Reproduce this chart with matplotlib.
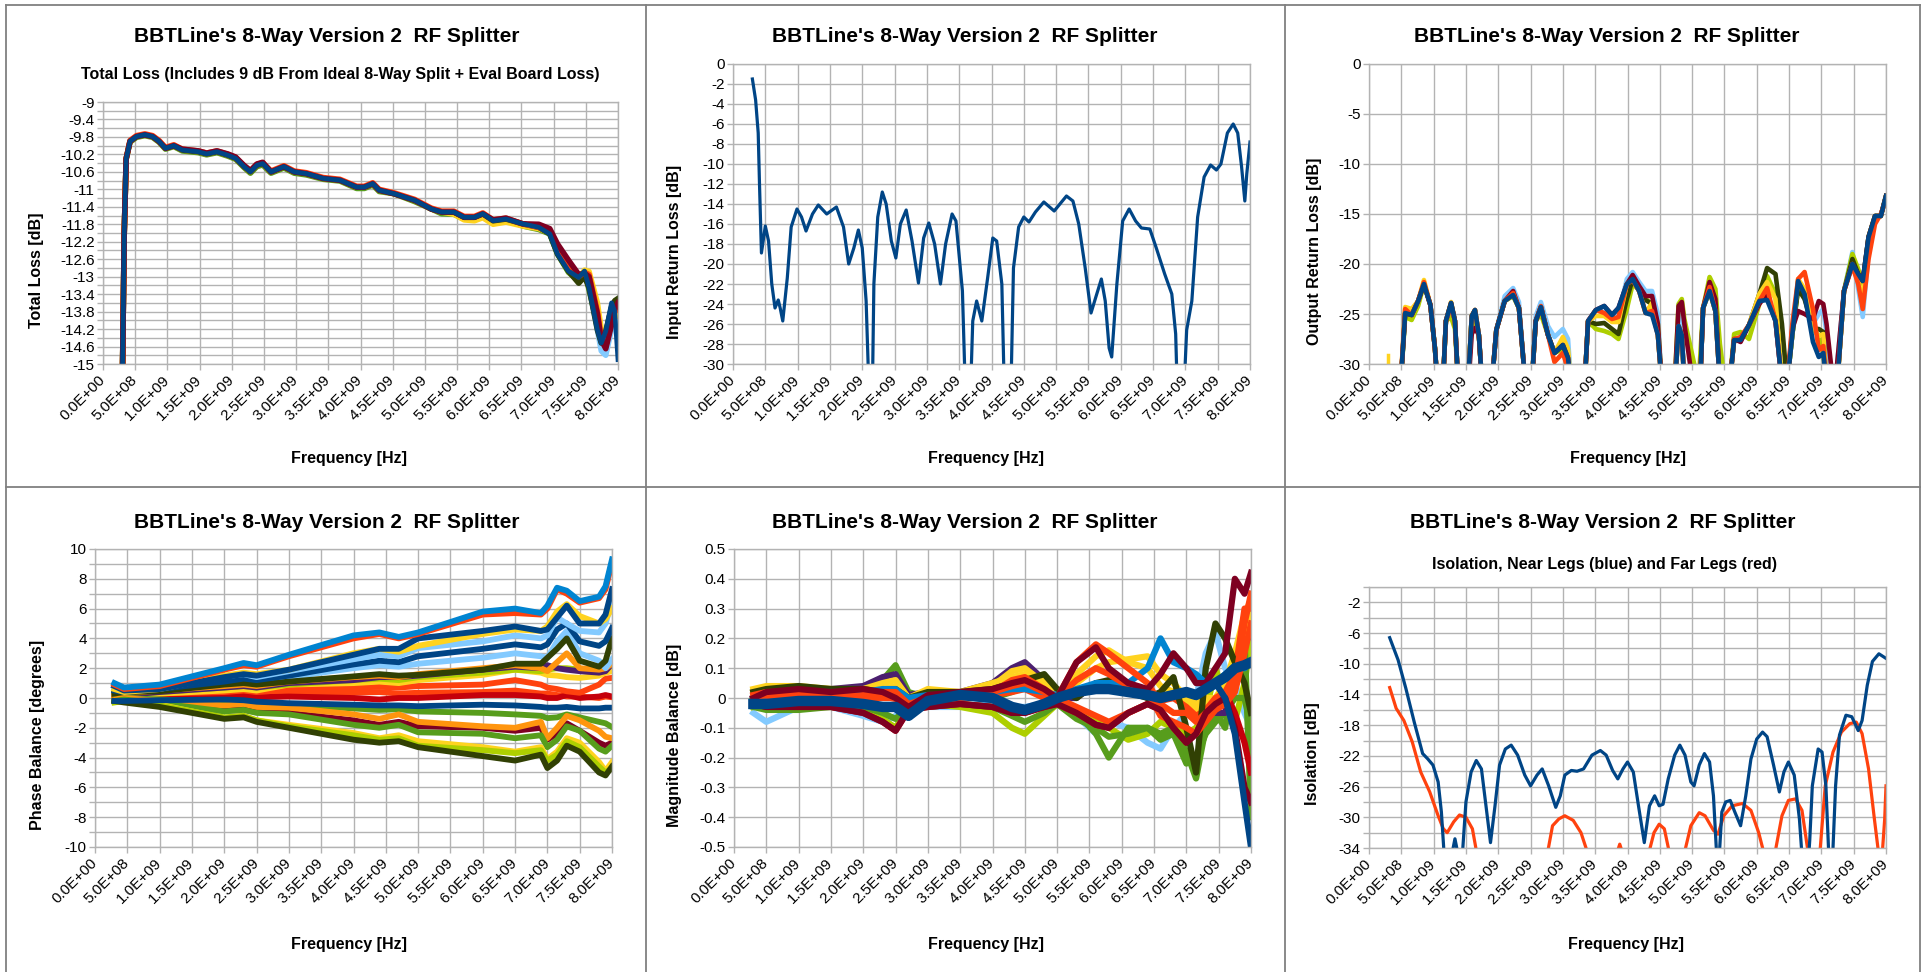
import numpy as np
import matplotlib
matplotlib.use("Agg")
import matplotlib.pyplot as plt
from matplotlib.lines import Line2D

# ---------------------------------------------------------------- text
TITLE = "BBTLine's 8-Way Version 2  RF Splitter"
SUB_LOSS = "Total Loss (Includes 9 dB From Ideal 8-Way Split + Eval Board Loss)"
SUB_ISO = "Isolation, Near Legs (blue) and Far Legs (red)"
XLABEL = "Frequency [Hz]"
YLABELS = ["Total Loss [dB]", "Input Return Loss [dB]", "Output Return Loss [dB]",
           "Phase Balance [degrees]", "Magnitude Balance [dB]", "Isolation [dB]"]
XTICKS_GHZ = [0.0, 0.5, 1.0, 1.5, 2.0, 2.5, 3.0, 3.5, 4.0, 4.5, 5.0, 5.5, 6.0, 6.5, 7.0, 7.5, 8.0]
XTICK_LABELS = ["0.0E+00", "5.0E+08", "1.0E+09", "1.5E+09", "2.0E+09", "2.5E+09", "3.0E+09",
                "3.5E+09", "4.0E+09", "4.5E+09", "5.0E+09", "5.5E+09", "6.0E+09", "6.5E+09",
                "7.0E+09", "7.5E+09", "8.0E+09"]

# ---------------------------------------------------------------- colours (LibreOffice palette)
DBLUE, ORANGE, YELLOW, GREEN = "#004586", "#ff420e", "#ffd320", "#579d1c"
MAROON, LBLUE, DGREEN, LIME = "#7e0021", "#83caff", "#314004", "#aecf00"
PURPLE, ORANGE2, RED, BLUE = "#4b1f6f", "#ff950e", "#c5000b", "#0084d1"

# ---------------------------------------------------------------- panel 1 : total loss (GHz / dB)
P1_F = [0.30, 0.33, 0.36, 0.42, 0.52, 0.65, 0.77, 0.87, 0.97, 1.10,
        1.23, 1.48, 1.61, 1.77, 1.94, 2.06, 2.19, 2.29, 2.39, 2.48,
        2.61, 2.81, 2.97, 3.16, 3.42, 3.68, 3.94, 4.06, 4.19, 4.29,
        4.52, 4.84, 5.10, 5.26, 5.45, 5.61, 5.77, 5.90, 6.06, 6.26,
        6.52, 6.77, 6.94, 7.06, 7.23, 7.39, 7.48, 7.55, 7.68, 7.74,
        7.81, 7.90, 7.95, 8.00]
P1_DBLUE = [-15.5, -12.0, -10.3, -9.90, -9.79, -9.75, -9.79, -9.90, -10.06, -10.00,
            -10.10, -10.14, -10.19, -10.14, -10.22, -10.29, -10.48, -10.60, -10.45, -10.41,
            -10.60, -10.48, -10.60, -10.64, -10.75, -10.79, -10.95, -10.95, -10.87, -11.02,
            -11.10, -11.25, -11.45, -11.52, -11.52, -11.64, -11.64, -11.56, -11.72, -11.68,
            -11.79, -11.87, -12.02, -12.48, -12.87, -13.02, -12.87, -13.25, -14.22, -14.52,
            -14.25, -13.60, -13.80, -14.90]
P1_MAROON = [-15.5, -12.0, -10.3, -9.90, -9.79, -9.75, -9.79, -9.90, -10.06, -10.00,
             -10.08, -10.12, -10.17, -10.12, -10.19, -10.26, -10.45, -10.57, -10.42, -10.38,
             -10.60, -10.48, -10.60, -10.64, -10.75, -10.79, -10.95, -10.95, -10.87, -11.02,
             -11.10, -11.25, -11.45, -11.52, -11.52, -11.64, -11.64, -11.56, -11.70, -11.66,
             -11.79, -11.80, -11.90, -12.25, -12.62, -12.95, -12.92, -13.00, -13.85, -14.45,
             -14.65, -14.10, -13.75, -13.60]
P1_ORANGE = [-15.5, -12.0, -10.3, -9.88, -9.77, -9.73, -9.77, -9.88, -10.04, -9.98,
             -10.08, -10.12, -10.17, -10.12, -10.20, -10.27, -10.46, -10.58, -10.43, -10.39,
             -10.58, -10.46, -10.58, -10.62, -10.73, -10.77, -10.93, -10.93, -10.85, -11.00,
             -11.08, -11.23, -11.43, -11.50, -11.50, -11.62, -11.62, -11.54, -11.70, -11.66,
             -11.79, -11.87, -11.97, -12.35, -12.75, -13.00, -12.90, -12.95, -13.80, -14.40,
             -14.60, -14.05, -13.80, -13.75]
P1_YELLOW = [-15.5, -12.0, -10.3, -9.90, -9.79, -9.75, -9.79, -9.90, -10.06, -10.00,
             -10.10, -10.14, -10.19, -10.14, -10.22, -10.29, -10.48, -10.60, -10.45, -10.41,
             -10.60, -10.48, -10.60, -10.64, -10.75, -10.79, -10.95, -10.95, -10.87, -11.02,
             -11.10, -11.25, -11.45, -11.52, -11.57, -11.70, -11.72, -11.65, -11.80, -11.75,
             -11.84, -11.90, -12.00, -12.35, -12.80, -13.05, -12.85, -12.88, -13.60, -14.20,
             -14.50, -13.95, -13.70, -13.90]
P1_GREEN = [-15.5, -12.0, -10.3, -9.92, -9.81, -9.77, -9.81, -9.92, -10.08, -10.02,
            -10.12, -10.16, -10.21, -10.16, -10.24, -10.31, -10.50, -10.63, -10.48, -10.44,
            -10.63, -10.51, -10.63, -10.67, -10.77, -10.81, -10.98, -10.98, -10.90, -11.05,
            -11.10, -11.28, -11.45, -11.56, -11.57, -11.68, -11.70, -11.56, -11.78, -11.68,
            -11.84, -11.92, -12.02, -12.48, -12.90, -13.10, -12.87, -13.30, -14.10, -14.45,
            -14.30, -13.70, -13.60, -13.70]
P1_LBLUE = [-15.5, -12.0, -10.3, -9.90, -9.79, -9.75, -9.79, -9.90, -10.06, -10.00,
            -10.10, -10.14, -10.19, -10.14, -10.22, -10.29, -10.48, -10.60, -10.45, -10.41,
            -10.60, -10.48, -10.60, -10.64, -10.75, -10.79, -10.95, -10.95, -10.87, -11.02,
            -11.10, -11.25, -11.45, -11.52, -11.52, -11.64, -11.68, -11.56, -11.72, -11.68,
            -11.79, -11.87, -12.02, -12.48, -12.87, -13.02, -12.87, -13.25, -14.22, -14.70,
            -14.80, -14.20, -14.00, -14.10]
P1_DGREEN = [-15.5, -12.0, -10.3, -9.90, -9.79, -9.75, -9.79, -9.90, -10.06, -10.00,
             -10.10, -10.14, -10.19, -10.14, -10.22, -10.29, -10.48, -10.60, -10.45, -10.41,
             -10.60, -10.48, -10.60, -10.64, -10.75, -10.79, -10.95, -10.95, -10.87, -11.02,
             -11.10, -11.25, -11.45, -11.52, -11.52, -11.64, -11.64, -11.56, -11.72, -11.68,
             -11.79, -11.87, -12.02, -12.48, -12.87, -13.15, -13.00, -13.25, -14.22, -14.52,
             -14.25, -13.70, -13.55, -13.50]

# ---------------------------------------------------------------- panel 2 : input return loss
P2_F = [0.30, 0.35, 0.39, 0.41, 0.44, 0.50, 0.55, 0.60, 0.65, 0.70, 0.73, 0.77, 0.84, 0.90,
        0.99, 1.06, 1.13, 1.23, 1.32, 1.45, 1.60, 1.71, 1.79, 1.87, 1.94, 2.00, 2.06, 2.12,
        2.15, 2.18, 2.24, 2.31, 2.37, 2.45, 2.52, 2.59, 2.68, 2.77, 2.87, 2.95, 3.03, 3.12,
        3.21, 3.29, 3.39, 3.45, 3.55, 3.61, 3.66, 3.71, 3.77, 3.85, 3.94, 4.02, 4.08, 4.16,
        4.21, 4.29, 4.34, 4.42, 4.50, 4.58, 4.68, 4.81, 4.97, 5.16, 5.26, 5.35, 5.45, 5.54,
        5.61, 5.70, 5.76, 5.82, 5.86, 5.94, 6.03, 6.13, 6.23, 6.32, 6.45, 6.55, 6.68, 6.79,
        6.85, 6.88, 6.97, 7.02, 7.10, 7.19, 7.29, 7.39, 7.48, 7.55, 7.65, 7.74, 7.81, 7.87,
        7.92, 7.95, 8.00]
P2_DB = [-1.5, -3.6, -6.9, -12.0, -18.9, -16.2, -17.7, -22.0, -24.4, -23.6, -24.4, -25.7, -21.4, -16.3,
         -14.5, -15.3, -16.7, -15.0, -14.1, -15.0, -14.3, -16.3, -20.0, -18.4, -16.6, -18.4, -23.7, -36.0,
         -36.0, -22.0, -15.3, -12.8, -14.0, -17.7, -19.4, -16.0, -14.6, -17.7, -21.9, -17.4, -15.9, -18.0,
         -22.0, -18.0, -15.0, -15.7, -22.7, -36.0, -36.0, -25.7, -23.7, -25.7, -21.4, -17.4, -17.7, -22.0,
         -36.0, -36.0, -20.4, -16.3, -15.3, -15.8, -14.8, -13.8, -14.7, -13.2, -13.7, -16.0, -20.4, -24.9,
         -23.4, -21.5, -23.7, -28.4, -29.3, -22.0, -15.7, -14.5, -15.7, -16.4, -16.5, -18.4, -21.0, -23.0,
         -27.0, -34.0, -34.0, -26.6, -23.7, -15.3, -11.3, -10.1, -10.6, -10.0, -6.9, -6.0, -6.9, -10.3,
         -13.7, -11.0, -7.8]

# ---------------------------------------------------------------- panel 3 : output return loss
P3_F = [0.47, 0.56, 0.66, 0.76, 0.85, 0.95, 1.02, 1.08, 1.13, 1.19,
        1.27, 1.33, 1.38, 1.50, 1.59, 1.64, 1.70, 1.75, 1.85, 1.97,
        2.10, 2.23, 2.32, 2.42, 2.50, 2.58, 2.66, 2.77, 2.87, 3.00,
        3.08, 3.15, 3.32, 3.39, 3.51, 3.64, 3.76, 3.86, 3.99, 4.08,
        4.18, 4.28, 4.38, 4.47, 4.53, 4.70, 4.79, 4.84, 4.88, 5.10,
        5.17, 5.27, 5.36, 5.43, 5.55, 5.65, 5.75, 5.88, 6.04, 6.16,
        6.29, 6.39, 6.47, 6.55, 6.64, 6.74, 6.87, 6.96, 7.03, 7.08,
        7.20, 7.35, 7.48, 7.57, 7.64, 7.73, 7.83, 7.92, 8.00]
P3_DBLUE = [-34, -24.9, -25.1, -23.7, -22.0, -24.1, -28.4, -34, -34, -25.7,
            -23.9, -25.7, -32, -36, -25.2, -24.6, -27.1, -32, -36, -26.6,
            -23.7, -23.1, -24.4, -32, -34, -25.7, -24.3, -27.1, -28.9, -28.1,
            -29.4, -34, -34, -25.7, -24.6, -24.2, -25.1, -24.4, -22.0, -21.5,
            -22.7, -24.9, -25.1, -27.1, -32, -36, -26.2, -27.1, -32, -36,
            -24.4, -22.7, -24.7, -32, -34, -27.6, -27.6, -26.1, -23.7, -23.6,
            -25.7, -32, -32, -27.1, -21.7, -23.0, -27.8, -29.3, -28.9, -32,
            -36, -22.7, -20.0, -21.0, -21.7, -17.3, -15.2, -15.2, -13.2]
P3_LBLUE = [-34, -24.9, -25.1, -23.7, -22.2, -24.1, -28.4, -34, -34, -25.7,
            -24.0, -25.7, -32, -36, -25.2, -25.9, -27.1, -32, -36, -26.6,
            -23.2, -22.4, -23.8, -32, -34, -25.2, -23.8, -26.2, -27.3, -26.5,
            -27.5, -34, -34, -25.7, -24.6, -24.8, -25.5, -25.0, -21.5, -20.8,
            -21.8, -22.7, -22.7, -25.0, -32, -36, -25.0, -26.0, -32, -36,
            -24.4, -22.4, -24.7, -32, -34, -27.6, -27.6, -26.1, -23.7, -23.0,
            -25.7, -32, -32, -27.1, -22.2, -23.5, -26.0, -25.0, -24.5, -27.0,
            -33, -22.7, -18.8, -22.5, -25.3, -19.0, -15.5, -15.2, -13.2]
P3_LIME = [-34, -25.3, -25.6, -24.2, -22.0, -24.1, -28.4, -34, -34, -25.7,
           -25.3, -26.5, -32, -36, -25.2, -26.0, -27.1, -32, -36, -26.6,
           -23.7, -23.2, -24.4, -32, -34, -25.7, -25.0, -27.1, -28.9, -28.5,
           -29.4, -34, -34, -25.7, -26.5, -26.7, -27.0, -27.5, -24.5, -22.0,
           -22.6, -23.5, -24.0, -26.0, -32, -36, -24.0, -23.5, -25.5, -32,
           -24.4, -21.3, -22.5, -28.0, -34, -27.0, -26.8, -27.5, -24.0, -21.2,
           -23.0, -32, -32, -27.1, -22.5, -22.8, -26.0, -27.5, -28.9, -32,
           -36, -22.7, -19.0, -20.5, -22.0, -17.3, -15.2, -15.2, -13.2]
P3_DGREEN = [-34, -24.9, -25.1, -23.7, -22.0, -24.1, -28.4, -34, -34, -25.7,
             -23.9, -25.7, -32, -36, -25.2, -24.6, -27.1, -32, -36, -26.6,
             -23.7, -23.1, -24.4, -32, -34, -25.7, -24.3, -27.1, -28.9, -28.1,
             -29.4, -34, -34, -25.7, -26.0, -25.9, -26.5, -27.0, -23.5, -21.5,
             -22.7, -23.6, -24.0, -27.1, -32, -36, -26.2, -27.1, -32, -36,
             -24.4, -22.7, -24.7, -32, -34, -27.6, -27.6, -26.1, -23.0, -20.4,
             -21.0, -26.0, -32, -27.1, -22.5, -23.5, -26.5, -26.5, -26.8, -32,
             -36, -22.7, -19.5, -21.0, -21.7, -17.3, -15.2, -15.2, -13.2]
P3_YELLOW = [-34, -24.3, -24.5, -23.7, -21.6, -24.1, -28.4, -34, -34, -25.7,
             -23.8, -25.7, -32, -36, -25.2, -24.6, -27.1, -32, -36, -26.6,
             -23.7, -23.1, -24.4, -32, -34, -25.7, -24.3, -27.1, -28.9, -27.3,
             -28.5, -34, -34, -25.7, -25.2, -25.2, -25.8, -25.8, -22.0, -21.5,
             -22.7, -24.9, -23.9, -27.1, -32, -36, -26.2, -27.1, -32, -36,
             -24.4, -22.7, -24.7, -32, -34, -27.6, -27.6, -26.1, -23.0, -21.8,
             -23.5, -32, -32, -27.1, -21.5, -22.5, -26.5, -27.2, -27.0, -32,
             -36, -22.7, -20.0, -21.5, -24.0, -17.3, -15.2, -15.2, -13.2]
P3_MAROON = [-34, -24.9, -25.1, -23.7, -22.0, -24.1, -28.4, -34, -34, -25.7,
             -23.9, -25.7, -32, -36, -27.0, -26.4, -27.1, -32, -36, -26.6,
             -23.7, -22.7, -24.4, -32, -34, -25.7, -24.3, -27.1, -28.9, -28.1,
             -29.4, -34, -34, -25.7, -24.6, -24.2, -25.1, -24.4, -22.0, -21.1,
             -22.2, -23.2, -23.2, -26.0, -32, -36, -24.2, -23.8, -26.0, -36,
             -24.4, -21.8, -23.5, -32, -34, -27.5, -27.8, -26.1, -24.0, -23.0,
             -25.7, -32, -32, -26.5, -24.7, -25.0, -25.5, -23.7, -24.0, -26.0,
             -33, -22.7, -20.0, -21.0, -21.7, -17.3, -15.2, -15.2, -13.2]
P3_ORANGE = [-34, -24.5, -25.1, -23.7, -21.8, -24.1, -28.4, -34, -34, -25.7,
             -24.2, -25.7, -32, -36, -25.2, -24.6, -27.1, -32, -36, -26.6,
             -23.7, -22.9, -24.4, -32, -34, -25.7, -24.2, -27.1, -29.8, -28.9,
             -30.5, -34, -34, -25.7, -24.6, -24.9, -25.5, -25.3, -22.0, -21.6,
             -22.7, -24.9, -24.7, -27.1, -32, -36, -26.2, -27.1, -32, -36,
             -24.4, -22.3, -24.7, -32, -34, -27.5, -27.3, -26.1, -23.7, -22.4,
             -25.7, -32, -32, -26.0, -21.5, -20.8, -24.5, -28.6, -28.2, -32,
             -36, -22.7, -20.2, -22.0, -24.5, -19.5, -16.0, -15.0, -13.5]
P3_STUB_F = [0.29, 0.29]
P3_STUB_Y = [-29.1, -31.0]

# ---------------------------------------------------------------- panel 4 : phase balance
P4_F = [0.30, 0.45, 1.0, 2.0, 2.3, 2.5, 3.0, 4.0, 4.4, 4.7, 5.0, 6.0, 6.5, 6.9, 7.0, 7.15, 7.3, 7.5, 7.8, 7.9, 8.0]
P4_ORANGE_B = [0.0, 0.0, 0.2, 0.3, 0.35, 0.25, 0.3, 0.35, 0.4, 0.3, 0.35, 0.4, 0.5, 0.3, 0.3, 0.2, 0.1, 0.1, 0.0, 0.1, 0.05]
P4_RED = [0.0, -0.1, 0.0, 0.1, 0.15, 0.05, 0.1, 0.0, -0.1, 0.0, 0.0, 0.2, 0.2, 0.1, 0.0, 0.0, 0.2, 0.0, 0.1, 0.2, 0.1]
P4_ORANGE_A = [0.0, 0.1, 0.3, 0.4, 0.5, 0.4, 0.55, 0.7, 0.75, 0.7, 0.8, 0.9, 1.2, 0.9, 0.7, 0.6, 0.45, 0.35, 0.9, 1.3, 1.35]
P4_YELLOW_MID = [0.1, 0.1, 0.3, 0.5, 0.6, 0.5, 0.9, 1.0, 1.1, 1.0, 1.2, 1.55, 1.9, 1.7, 1.55, 1.5, 1.4, 1.35, 1.5, 1.7, 1.8]
P4_LIME_MID = [0.1, 0.2, 0.4, 0.7, 0.8, 0.7, 0.9, 1.2, 1.3, 1.2, 1.4, 1.7, 1.9, 1.8, 1.9, 2.0, 2.0, 1.9, 1.8, 2.0, 2.2]
P4_PURPLE = [0.2, 0.2, 0.4, 0.7, 0.8, 0.7, 1.0, 1.2, 1.4, 1.4, 1.5, 1.9, 2.1, 2.0, 2.2, 2.0, 1.9, 1.8, 1.7, 1.8, 2.3]
P4_ORANGE2_MID = [0.2, 0.3, 0.5, 0.8, 0.9, 0.8, 1.1, 1.4, 1.5, 1.4, 1.6, 2.0, 2.2, 2.0, 1.8, 2.4, 3.0, 2.0, 1.9, 2.0, 2.3]
P4_GREEN_MID = [-0.1, 0.0, -0.1, -0.3, -0.3, -0.35, -0.45, -0.7, -0.8, -0.75, -0.9, -1.0, -1.1, -1.2, -1.35, -1.3, -1.1, -1.3, -1.6, -1.7, -1.95]
P4_MAROON_LO = [-0.2, -0.1, -0.3, -0.8, -0.7, -0.9, -1.0, -1.5, -1.8, -1.6, -1.9, -2.0, -2.2, -2.0, -2.8, -2.4, -1.7, -2.2, -3.0, -3.2, -3.0]
P4_ORANGE2_LO = [-0.1, 0.0, -0.2, -0.5, -0.4, -0.6, -0.65, -1.1, -1.4, -1.1, -1.6, -1.9, -2.0, -1.6, -2.7, -2.0, -1.2, -1.5, -2.2, -2.6, -2.7]
P4_GREEN_LO = [-0.2, -0.1, -0.35, -0.9, -0.8, -1.0, -1.1, -1.8, -2.0, -1.8, -2.3, -2.4, -2.7, -2.5, -3.3, -2.8, -1.9, -2.2, -3.4, -3.6, -3.2]
P4_YELLOW_LO = [-0.2, -0.2, -0.45, -1.35, -1.2, -1.5, -1.8, -2.35, -2.7, -2.5, -2.9, -3.3, -3.6, -3.3, -4.1, -3.6, -2.7, -3.0, -4.3, -4.9, -4.3]
P4_LIME_LO = [-0.3, -0.2, -0.5, -1.3, -1.2, -1.5, -1.9, -2.5, -2.8, -2.7, -3.2, -3.5, -3.7, -3.5, -4.2, -3.8, -2.9, -3.3, -4.6, -5.0, -4.7]
P4_DGREEN_LO = [-0.2, -0.3, -0.6, -1.4, -1.3, -1.6, -2.0, -2.8, -3.0, -2.9, -3.3, -3.9, -4.2, -3.8, -4.7, -4.2, -3.2, -3.6, -5.0, -5.2, -4.6]
P4_LBLUE_A = [0.5, 0.4, 0.6, 1.2, 1.3, 1.1, 1.4, 2.0, 2.2, 2.1, 2.3, 2.7, 3.0, 2.8, 2.7, 3.8, 4.5, 3.0, 2.5, 2.0, 2.6]
P4_DGREEN_HI = [0.3, 0.4, 0.45, 0.9, 1.0, 0.9, 1.1, 1.45, 1.6, 1.5, 1.55, 1.9, 2.3, 2.3, 2.7, 3.3, 4.0, 2.5, 2.1, 2.5, 4.0]
P4_DBLUE_MID = [0.5, 0.4, 0.6, 1.1, 1.3, 1.2, 1.5, 2.25, 2.5, 2.4, 2.8, 3.3, 3.6, 3.4, 3.6, 4.6, 5.0, 3.8, 3.5, 3.8, 4.7]
P4_LBLUE_B = [0.8, 0.5, 0.65, 1.45, 1.6, 1.4, 1.8, 2.6, 2.9, 2.8, 3.35, 3.8, 4.2, 4.0, 4.2, 5.4, 5.0, 4.5, 4.4, 5.0, 6.5]
P4_YELLOW_HI = [0.6, 0.4, 0.6, 1.5, 1.7, 1.6, 1.9, 3.0, 3.3, 3.1, 3.5, 4.3, 4.6, 4.5, 4.8, 5.8, 6.3, 5.5, 5.0, 5.3, 6.0]
P4_DBLUE_HI = [0.8, 0.5, 0.6, 1.4, 1.6, 1.5, 1.9, 2.9, 3.3, 3.3, 4.0, 4.5, 4.8, 4.5, 4.6, 5.4, 6.2, 5.0, 5.0, 5.6, 7.3]
P4_ORANGE_HI = [0.9, 0.6, 0.8, 1.9, 2.2, 2.1, 2.8, 4.0, 4.3, 4.0, 4.3, 5.6, 5.7, 5.6, 6.0, 7.3, 7.0, 6.4, 6.7, 7.3, 9.1]
P4_BLUE_TOP = [1.0, 0.7, 0.9, 2.0, 2.35, 2.2, 2.9, 4.2, 4.4, 4.1, 4.4, 5.8, 6.0, 5.7, 6.2, 7.4, 7.2, 6.5, 6.8, 7.5, 9.3]
P4_DBLUE_LO = [-0.2, -0.2, -0.15, -0.1, -0.15, -0.25, -0.35, -0.45, -0.5, -0.5, -0.55, -0.45, -0.5, -0.6, -0.65, -0.65, -0.6, -0.7, -0.7, -0.65, -0.65]

# ---------------------------------------------------------------- panel 5 : magnitude balance
P5_F = [0.30, 0.5, 1.0, 1.5, 2.0, 2.3, 2.5, 2.7, 3.0, 3.5, 4.0, 4.3, 4.5, 4.8, 5.0,
        5.3, 5.6, 5.8, 6.1, 6.4, 6.6, 6.8, 7.0, 7.15, 7.3, 7.45, 7.6, 7.75, 7.9, 8.0]
P5_LBLUE = [-0.05, -0.08, -0.03, -0.03, -0.06, -0.08, -0.06, -0.02, -0.03, -0.03, -0.02, -0.03, -0.03, -0.02, -0.01,
            -0.06, -0.12, -0.08, -0.10, -0.15, -0.17, -0.10, -0.05, 0.00, 0.15, 0.22, 0.10, 0.05, -0.05, -0.10]
P5_LIME = [-0.03, -0.02, -0.03, -0.03, -0.04, -0.07, -0.10, -0.03, -0.02, -0.03, -0.05, -0.10, -0.12, -0.06, -0.02,
           -0.05, -0.08, -0.10, -0.14, -0.12, -0.08, -0.10, -0.12, -0.10, -0.05, 0.10, 0.00, -0.08, 0.05, 0.20]
P5_GREEN = [0.00, -0.03, 0.00, 0.02, 0.03, 0.06, 0.11, 0.02, 0.00, 0.01, 0.00, 0.02, 0.04, 0.02, -0.02,
            -0.05, -0.12, -0.20, -0.10, -0.10, -0.12, -0.10, -0.18, -0.27, -0.10, -0.05, -0.10, 0.10, 0.20, -0.40]
P5_GREEN_B = [-0.03, -0.04, -0.04, -0.03, -0.03, -0.05, -0.07, -0.03, -0.03, -0.02, -0.03, -0.06, -0.08, -0.05, -0.02,
              -0.07, -0.10, -0.13, -0.12, -0.10, -0.14, -0.12, -0.22, -0.20, -0.12, -0.08, -0.05, 0.00, 0.00, -0.10]
P5_PURPLE = [0.00, 0.02, 0.03, 0.03, 0.04, 0.07, 0.08, 0.01, 0.02, 0.02, 0.05, 0.10, 0.12, 0.06, 0.00,
             0.00, 0.05, 0.05, 0.03, 0.00, 0.00, 0.00, 0.00, 0.00, 0.00, -0.05, -0.05, 0.10, 0.18, 0.22]
P5_RED = [-0.02, -0.03, -0.03, -0.03, -0.05, -0.08, -0.11, -0.04, -0.03, -0.02, -0.03, -0.05, -0.05, -0.03, -0.02,
          -0.05, -0.09, -0.10, -0.05, -0.02, -0.04, -0.10, -0.15, -0.12, -0.05, -0.02, 0.02, -0.05, -0.15, -0.25]
P5_YELLOW = [0.02, 0.03, 0.03, 0.03, 0.02, 0.03, 0.04, 0.00, 0.02, 0.01, 0.04, 0.09, 0.10, 0.05, 0.00,
             0.05, 0.10, 0.12, 0.13, 0.14, 0.08, 0.05, 0.00, -0.02, 0.00, 0.00, 0.05, 0.15, 0.28, 0.33]
P5_YELLOW_B = [0.03, 0.04, 0.04, 0.03, 0.03, 0.05, 0.06, 0.00, 0.03, 0.02, 0.05, 0.07, 0.08, 0.06, 0.01,
               0.08, 0.14, 0.16, 0.12, 0.10, 0.04, 0.02, -0.02, -0.04, -0.02, 0.00, 0.04, 0.12, 0.20, 0.30]
P5_ORANGE_B = [-0.02, 0.00, 0.00, -0.01, -0.02, -0.03, -0.02, -0.04, -0.02, 0.00, 0.01, 0.02, 0.03, 0.00, 0.00,
               -0.03, -0.06, -0.08, -0.05, -0.02, -0.01, 0.00, -0.03, -0.06, -0.04, 0.00, 0.02, 0.08, 0.30, 0.30]
P5_ORANGE_C = [0.01, 0.02, 0.02, 0.01, 0.00, 0.00, 0.00, -0.03, 0.00, 0.01, 0.02, 0.06, 0.07, 0.03, 0.00,
               0.06, 0.10, 0.08, 0.04, 0.02, -0.06, -0.08, -0.10, -0.12, -0.08, -0.04, -0.02, 0.02, 0.15, 0.25]
P5_DGREEN = [0.02, 0.03, 0.04, 0.03, 0.03, 0.02, 0.03, 0.00, 0.02, 0.02, 0.03, 0.05, 0.06, 0.08, 0.03,
             0.00, 0.05, 0.06, 0.02, 0.00, 0.02, 0.07, -0.10, -0.25, 0.10, 0.25, 0.20, 0.12, 0.05, -0.05]
P5_BLUE = [0.00, 0.01, 0.02, 0.02, 0.02, 0.03, 0.03, 0.00, 0.01, 0.01, 0.02, 0.03, 0.03, 0.02, 0.01,
           0.03, 0.05, 0.05, 0.05, 0.10, 0.20, 0.12, 0.10, 0.08, 0.05, 0.05, 0.08, 0.10, 0.10, 0.12]
P5_ORANGE_A = [0.00, 0.01, 0.01, 0.00, 0.01, 0.02, 0.02, -0.02, 0.00, 0.00, 0.02, 0.04, 0.05, 0.02, 0.00,
               0.12, 0.18, 0.15, 0.10, 0.05, -0.02, -0.05, -0.05, -0.08, -0.05, -0.03, 0.00, 0.05, 0.25, 0.35]
P5_MAROON = [0.00, 0.02, 0.03, 0.02, 0.03, 0.02, 0.00, -0.03, 0.01, 0.02, 0.03, 0.05, 0.06, 0.03, 0.00,
             0.12, 0.17, 0.10, 0.05, 0.03, 0.08, 0.15, 0.10, 0.05, 0.05, 0.10, 0.15, 0.40, 0.35, 0.42]
P5_RED_DROP = [-0.02, -0.03, -0.03, -0.03, -0.05, -0.08, -0.11, -0.04, -0.03, -0.02, -0.03, -0.05, -0.05, -0.03, -0.02,
               -0.05, -0.09, -0.10, -0.05, -0.02, -0.04, -0.10, -0.15, -0.12, -0.05, -0.02, 0.00, -0.10, -0.30, -0.35]
P5_DBLUE_DROP = [-0.02, -0.02, -0.01, -0.01, -0.02, -0.03, -0.03, -0.05, -0.01, 0.01, 0.00, -0.03, -0.04, -0.02, 0.00,
                 0.02, 0.03, 0.03, 0.02, 0.01, 0.00, 0.01, 0.02, 0.01, 0.03, 0.05, 0.00, -0.12, -0.35, -0.50]
P5_DBLUE = [-0.02, -0.02, -0.01, -0.01, -0.02, -0.03, -0.03, -0.06, -0.01, 0.01, 0.00, -0.03, -0.04, -0.02, 0.00,
            0.02, 0.03, 0.03, 0.02, 0.01, 0.00, 0.01, 0.02, 0.01, 0.03, 0.05, 0.07, 0.10, 0.11, 0.12]

# ---------------------------------------------------------------- panel 6 : isolation
P6_NEAR_F = [0.32, 0.45, 0.57, 0.70, 0.83, 0.91, 0.99, 1.07, 1.12, 1.16, 1.22, 1.29, 1.33, 1.37, 1.42,
             1.46, 1.50, 1.58, 1.66, 1.74, 1.81, 1.88, 1.95, 2.02, 2.11, 2.20, 2.30, 2.41, 2.50, 2.60,
             2.68, 2.78, 2.89, 2.96, 3.03, 3.13, 3.22, 3.32, 3.45, 3.58, 3.67, 3.77, 3.85, 3.93, 4.00,
             4.09, 4.17, 4.26, 4.34, 4.42, 4.49, 4.55, 4.63, 4.73, 4.81, 4.89, 4.98, 5.03, 5.11, 5.19,
             5.27, 5.33, 5.38, 5.42, 5.46, 5.52, 5.59, 5.66, 5.75, 5.83, 5.91, 6.00, 6.09, 6.16, 6.26,
             6.35, 6.42, 6.49, 6.58, 6.66, 6.70, 6.78, 6.82, 6.86, 6.95, 7.01, 7.07, 7.12, 7.17, 7.22,
             7.28, 7.38, 7.47, 7.57, 7.63, 7.71, 7.79, 7.89, 8.00]
P6_NEAR = [-6.6, -9.5, -13.2, -17.6, -21.7, -22.4, -23.2, -25.4, -29.3, -34.5, -38.0, -34.5, -32.8, -34.5, -38.0,
           -33.0, -28.0, -24.1, -22.6, -23.7, -28.5, -33.3, -28.5, -23.2, -21.1, -20.6, -21.9, -24.5, -25.9, -24.5,
           -23.7, -25.9, -28.7, -27.2, -24.5, -23.9, -24.0, -23.7, -21.9, -21.3, -21.9, -23.9, -25.0, -23.7, -22.8,
           -24.1, -28.5, -33.3, -28.5, -27.2, -28.5, -28.3, -25.0, -21.9, -20.6, -21.9, -25.4, -25.9, -23.2, -21.7,
           -22.8, -27.2, -35.0, -35.0, -29.3, -28.0, -27.8, -29.3, -31.1, -27.2, -22.4, -19.8, -18.9, -19.5, -23.2,
           -26.7, -24.1, -22.8, -24.5, -30.2, -35.0, -38.0, -33.0, -25.9, -21.1, -21.5, -25.9, -36.0, -36.0, -25.9,
           -19.3, -16.7, -16.9, -18.7, -17.4, -12.8, -9.7, -8.7, -9.3]
P6_FAR_F = [0.32, 0.42, 0.54, 0.67, 0.80, 0.94, 1.07, 1.15, 1.21, 1.31, 1.40, 1.50, 1.60, 1.66, 1.75,
            2.40, 2.70, 2.77, 2.84, 2.94, 3.03, 3.16, 3.28, 3.37, 3.45, 3.75, 3.85, 3.88, 3.91, 3.98,
            4.25, 4.34, 4.41, 4.49, 4.57, 4.64, 4.72, 4.82, 4.89, 4.98, 5.11, 5.20, 5.33, 5.40, 5.49,
            5.62, 5.78, 5.91, 6.03, 6.10, 6.18, 6.22, 6.29, 6.39, 6.49, 6.60, 6.70, 6.79, 6.86, 6.92,
            6.98, 7.06, 7.18, 7.31, 7.44, 7.54, 7.63, 7.73, 7.82, 7.89, 7.94, 7.98, 8.00]
P6_FAR = [-13.1, -15.8, -17.4, -20.2, -24.1, -26.7, -29.8, -31.5, -32.0, -30.6, -29.7, -30.0, -31.5, -34.3, -38.0,
          -45.0, -38.0, -34.3, -31.1, -30.2, -29.8, -30.4, -32.0, -34.3, -38.0, -38.0, -34.3, -33.5, -34.3, -38.0,
          -38.0, -34.3, -32.0, -30.9, -31.5, -34.3, -38.0, -38.0, -34.3, -31.1, -29.4, -29.8, -31.7, -32.2, -29.8,
          -28.5, -28.2, -29.1, -32.0, -34.3, -38.0, -38.0, -34.3, -29.8, -27.8, -27.6, -29.1, -34.3, -38.0, -38.0,
          -34.3, -25.9, -21.5, -18.9, -17.8, -17.6, -19.1, -23.7, -30.2, -35.0, -35.0, -30.2, -25.9]

# ---------------------------------------------------------------- layout (pixels)
W, H, DPI = 1929, 972, 100
GRID = "#b3b3b3"
BORDER = "#808080"
TICK_FS = 11

plt.rcParams['font.family'] = ['Liberation Sans', 'DejaVu Sans']
fig = plt.figure(figsize=(W / DPI, H / DPI), dpi=DPI, facecolor='white')


def fx(px):
    return px / W


def fy(py):
    return 1 - py / H


def make_axes(l, t, r, b):
    return fig.add_axes([fx(l), fy(b), (r - l) / W, (b - t) / H])


def fmt(v):
    v = round(float(v), 2) + 0.0
    s = f"{v:g}"
    return "0" if s in ("-0", "0") else s


def style(ax, ylim, major, minor=None):
    ax.set_xlim(0, 8e9)
    ax.set_ylim(*ylim)
    ax.set_xticks([g * 1e9 for g in XTICKS_GHZ])
    ax.set_xticklabels(XTICK_LABELS, rotation=45, ha='right', va='center',
                       rotation_mode='anchor', fontsize=TICK_FS)
    ax.set_yticks(major)
    ax.set_yticklabels([fmt(v) for v in major], fontsize=TICK_FS)
    if minor is not None:
        ax.set_yticks(minor, minor=True)
    ax.grid(True, which='major', color=GRID, lw=1.0)
    if minor is not None:
        ax.grid(True, which='minor', axis='y', color=GRID, lw=1.0)
    ax.set_axisbelow(True)
    for s in ax.spines.values():
        s.set_color(GRID)
        s.set_linewidth(1.0)
    ax.tick_params(which='both', direction='out', length=4, width=1.0, color=GRID)
    ax.tick_params(axis='y', pad=2)
    ax.tick_params(axis='x', pad=6)


def hz(f):
    return np.asarray(f) * 1e9


# ---------------- panel 1
ax1 = make_axes(103, 102, 618, 364)
for y, c in [(P1_LBLUE, LBLUE), (P1_GREEN, GREEN), (P1_YELLOW, YELLOW), (P1_DGREEN, DGREEN),
             (P1_ORANGE, ORANGE), (P1_MAROON, MAROON)]:
    ax1.plot(hz(P1_F), y, color=c, lw=4.0, solid_joinstyle='round')
ax1.plot(hz(P1_F), P1_DBLUE, color=DBLUE, lw=3.4, solid_joinstyle='round')
style(ax1, (-15, -9), np.linspace(-15, -9, 16), np.linspace(-15, -9, 31))

# ---------------- panel 2
ax2 = make_axes(733, 64, 1250, 364)
ax2.plot(hz(P2_F), P2_DB, color=DBLUE, lw=2.3, solid_joinstyle='round')
style(ax2, (-30, 0), np.arange(-30, 1, 2))

# ---------------- panel 3
ax3 = make_axes(1369, 64, 1886, 364)
for y, c in [(P3_LBLUE, LBLUE), (P3_LIME, LIME), (P3_DGREEN, DGREEN), (P3_YELLOW, YELLOW),
             (P3_MAROON, MAROON), (P3_ORANGE, ORANGE)]:
    ax3.plot(hz(P3_F), y, color=c, lw=3.3, solid_joinstyle='round')
ax3.plot(hz(P3_F), P3_DBLUE, color=DBLUE, lw=3.3, solid_joinstyle='round')
ax3.plot(hz(P3_STUB_F), P3_STUB_Y, color=YELLOW, lw=2.5)
style(ax3, (-30, 0), np.arange(-30, 1, 5))

# ---------------- panel 4
ax4 = make_axes(95, 549, 612, 847)
p4 = [(P4_ORANGE_B, ORANGE), (P4_RED, RED), (P4_ORANGE_A, ORANGE), (P4_YELLOW_MID, YELLOW),
      (P4_LIME_MID, LIME), (P4_PURPLE, PURPLE), (P4_ORANGE2_MID, ORANGE2), (P4_GREEN_MID, GREEN),
      (P4_MAROON_LO, MAROON), (P4_ORANGE2_LO, ORANGE2), (P4_GREEN_LO, GREEN), (P4_YELLOW_LO, YELLOW),
      (P4_LIME_LO, LIME), (P4_DGREEN_LO, DGREEN), (P4_LBLUE_A, LBLUE), (P4_DGREEN_HI, DGREEN),
      (P4_DBLUE_MID, DBLUE), (P4_LBLUE_B, LBLUE), (P4_YELLOW_HI, YELLOW), (P4_DBLUE_HI, DBLUE),
      (P4_ORANGE_HI, ORANGE), (P4_BLUE_TOP, BLUE), (P4_DBLUE_LO, DBLUE)]
for y, c in p4:
    ax4.plot(hz(P4_F), y, color=c, lw=4.2, solid_joinstyle='round')
style(ax4, (-10, 10), np.arange(-10, 11, 2), np.arange(-10, 11, 1))

# ---------------- panel 5
ax5 = make_axes(734, 549, 1251, 847)
p5 = [(P5_LBLUE, LBLUE), (P5_LIME, LIME), (P5_GREEN_B, GREEN), (P5_GREEN, GREEN), (P5_PURPLE, PURPLE),
      (P5_RED, RED), (P5_YELLOW_B, YELLOW), (P5_YELLOW, YELLOW), (P5_ORANGE_B, ORANGE),
      (P5_DGREEN, DGREEN), (P5_BLUE, BLUE), (P5_ORANGE_C, ORANGE), (P5_ORANGE_A, ORANGE),
      (P5_MAROON, MAROON), (P5_RED_DROP, MAROON), (P5_DBLUE_DROP, DBLUE)]
for y, c in p5:
    ax5.plot(hz(P5_F), y, color=c, lw=4.5, solid_joinstyle='round')
ax5.plot(hz(P5_F), P5_DBLUE, color=DBLUE, lw=7.5, solid_joinstyle='round')
style(ax5, (-0.5, 0.5), np.linspace(-0.5, 0.5, 11))

# ---------------- panel 6
ax6 = make_axes(1369, 587, 1886, 848)
ax6.plot(hz(P6_FAR_F), P6_FAR, color=ORANGE, lw=2.3, solid_joinstyle='round')
ax6.plot(hz(P6_NEAR_F), P6_NEAR, color=DBLUE, lw=2.3, solid_joinstyle='round')
style(ax6, (-34, 0), np.arange(-34, -1, 4), np.arange(-34, 1, 2))

# ---------------- texts
title_pos = [(327, 37), (965, 37), (1607, 37), (327, 522), (965, 522), (1603, 522)]
for (x, y) in title_pos:
    fig.text(fx(x), fy(y), TITLE, ha='center', va='center', fontsize=15, fontweight='bold')
fig.text(fx(340), fy(74), SUB_LOSS, ha='center', va='center', fontsize=11.5, fontweight='bold')
fig.text(fx(1604), fy(564), SUB_ISO, ha='center', va='center', fontsize=11.5, fontweight='bold')

xlabel_pos = [(349, 459), (986, 459), (1628, 459), (349, 944), (986, 944), (1626, 944)]
for (x, y) in xlabel_pos:
    fig.text(fx(x), fy(y), XLABEL, ha='center', va='center', fontsize=11.5, fontweight='bold')

ylabel_pos = [(37, 270), (674, 252), (1314, 251), (38, 735), (675, 735), (1312, 754)]
for lab, (x, y) in zip(YLABELS, ylabel_pos):
    fig.text(fx(x), fy(y), lab, ha='center', va='center', rotation=90, fontsize=11.5, fontweight='bold')

# ---------------- panel frames
for x in (6, 646, 1285, 1920):
    fig.add_artist(Line2D([fx(x), fx(x)], [fy(5), fy(972)], transform=fig.transFigure,
                          color=BORDER, lw=1.3))
for y in (5, 487):
    fig.add_artist(Line2D([fx(6), fx(1920)], [fy(y), fy(y)], transform=fig.transFigure,
                          color=BORDER, lw=1.3))

fig.savefig("out.png", dpi=DPI, facecolor='white')
